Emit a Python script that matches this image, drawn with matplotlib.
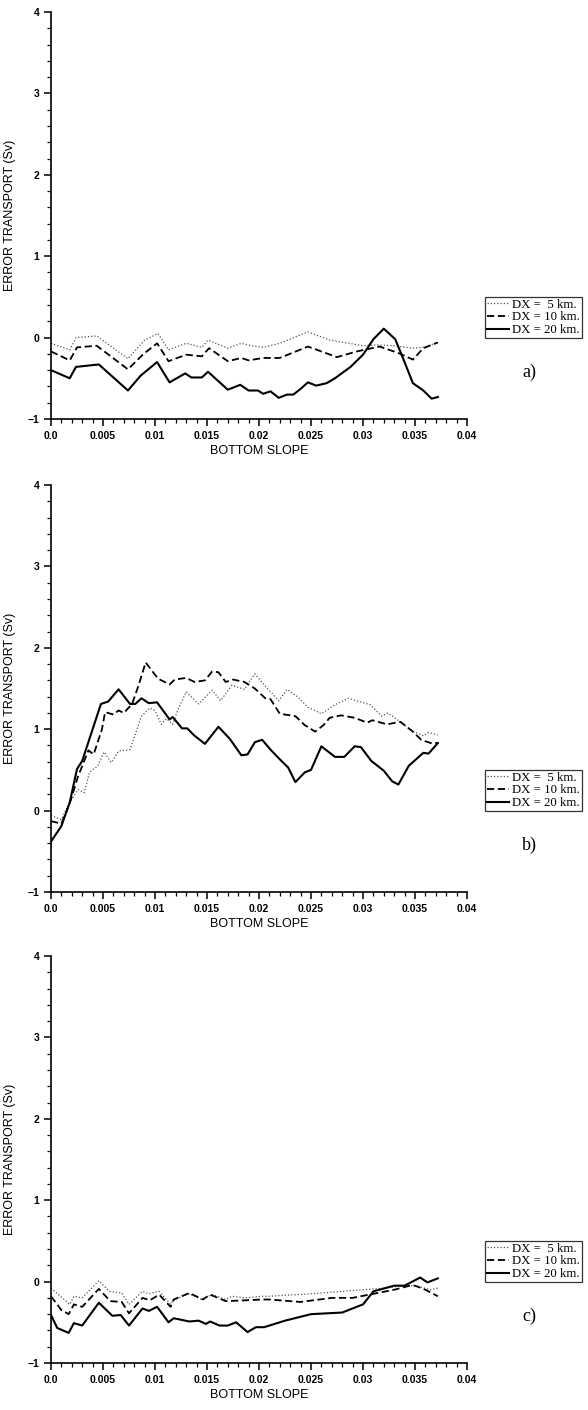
import matplotlib
matplotlib.use("Agg")
from matplotlib import pyplot as plt
from matplotlib.ticker import MultipleLocator, FixedFormatter, FixedLocator

# ---- data ----
a5_x = [0.0, 0.0018, 0.0024, 0.0044, 0.0074, 0.009, 0.0103, 0.0113, 0.013, 0.0145, 0.0151, 0.017,
        0.0183, 0.0193, 0.0204, 0.022, 0.0247, 0.0268, 0.030, 0.0313, 0.0329, 0.0348, 0.0358, 0.0372]
a5_y = [-0.07, -0.15, 0.0, 0.02, -0.26, -0.03, 0.05, -0.15, -0.07, -0.12, -0.03, -0.13,
        -0.07, -0.10, -0.12, -0.07, 0.07, -0.03, -0.10, -0.09, -0.10, -0.13, -0.12, -0.06]
a10_x = [0.0, 0.0018, 0.0025, 0.0044, 0.0074, 0.0089, 0.0102, 0.0113, 0.013, 0.0145, 0.0152, 0.017,
         0.0183, 0.019, 0.0204, 0.022, 0.0247, 0.0275, 0.0294, 0.0316, 0.0334, 0.0348, 0.0358, 0.0372]
a10_y = [-0.17, -0.28, -0.12, -0.10, -0.39, -0.20, -0.07, -0.29, -0.21, -0.23, -0.13, -0.29,
         -0.25, -0.28, -0.25, -0.25, -0.11, -0.24, -0.17, -0.11, -0.19, -0.27, -0.13, -0.06]
a20_x = [0.0, 0.0018, 0.0024, 0.0046, 0.0074, 0.0086, 0.0102, 0.0114, 0.0129, 0.0135, 0.0145, 0.0151,
         0.017, 0.0182, 0.019, 0.0199, 0.0204, 0.0211, 0.0219, 0.0227, 0.0233, 0.024, 0.0247, 0.0255,
         0.0265, 0.0273, 0.0288, 0.030, 0.031, 0.032, 0.0331, 0.0339, 0.0348, 0.0358, 0.0366, 0.0372]
a20_y = [-0.40, -0.50, -0.36, -0.33, -0.65, -0.47, -0.30, -0.55, -0.44, -0.49, -0.49, -0.42,
         -0.64, -0.58, -0.65, -0.65, -0.69, -0.66, -0.74, -0.70, -0.70, -0.63, -0.55, -0.59,
         -0.56, -0.50, -0.36, -0.21, -0.02, 0.11, -0.02, -0.27, -0.56, -0.65, -0.75, -0.73]

b5_x = [0.0, 0.001, 0.0018, 0.0026, 0.0032, 0.0037, 0.0045, 0.0051, 0.0058, 0.0065, 0.0076, 0.0087,
        0.0095, 0.0100, 0.0106, 0.0111, 0.0117, 0.0122, 0.013, 0.0142, 0.0155, 0.0163, 0.0174, 0.0186,
        0.0196, 0.0206, 0.0219, 0.0227, 0.0237, 0.0247, 0.026, 0.0273, 0.0286, 0.0307, 0.0318, 0.0324,
        0.0337, 0.0347, 0.0358, 0.0363, 0.0372]
b5_y = [-0.06, -0.11, 0.10, 0.26, 0.22, 0.47, 0.55, 0.72, 0.59, 0.73, 0.75, 1.16,
        1.26, 1.23, 1.06, 1.13, 1.06, 1.24, 1.46, 1.31, 1.48, 1.35, 1.54, 1.49,
        1.68, 1.53, 1.35, 1.49, 1.40, 1.27, 1.19, 1.30, 1.38, 1.30, 1.16, 1.20,
        1.08, 0.98, 0.92, 0.96, 0.93]
b10_x = [0.0, 0.001, 0.0018, 0.0026, 0.0036, 0.0041, 0.0049, 0.0052, 0.006, 0.0065, 0.007, 0.0078,
         0.0084, 0.0091, 0.0103, 0.0114, 0.0119, 0.013, 0.0138, 0.0148, 0.0155, 0.0161, 0.0168, 0.0175,
         0.0186, 0.0196, 0.0206, 0.0211, 0.022, 0.0235, 0.0244, 0.0254, 0.0262, 0.0268, 0.0279, 0.0292,
         0.0304, 0.0309, 0.0323, 0.0336, 0.0347, 0.0356, 0.0365, 0.0372]
b10_y = [-0.13, -0.16, 0.09, 0.42, 0.74, 0.69, 1.00, 1.21, 1.18, 1.23, 1.20, 1.31,
         1.53, 1.82, 1.62, 1.55, 1.61, 1.63, 1.58, 1.60, 1.71, 1.70, 1.58, 1.61,
         1.58, 1.50, 1.38, 1.37, 1.19, 1.16, 1.05, 0.97, 1.05, 1.14, 1.17, 1.14,
         1.08, 1.11, 1.06, 1.09, 0.98, 0.87, 0.83, 0.83]
b20_x = [0.0, 0.001, 0.0018, 0.0025, 0.003, 0.0039, 0.0048, 0.0055, 0.0065, 0.0076, 0.0081, 0.0087,
         0.0094, 0.0102, 0.0114, 0.0117, 0.0126, 0.0131, 0.0138, 0.0148, 0.0161, 0.0172, 0.0183, 0.0189,
         0.0196, 0.0203, 0.0211, 0.022, 0.0228, 0.0235, 0.0244, 0.025, 0.026, 0.0273, 0.0282, 0.0292,
         0.0298, 0.0308, 0.032, 0.0328, 0.0334, 0.0344, 0.0358, 0.0363, 0.0372]
b20_y = [-0.38, -0.19, 0.10, 0.51, 0.61, 0.96, 1.31, 1.34, 1.49, 1.31, 1.31, 1.38,
         1.32, 1.33, 1.12, 1.15, 1.01, 1.01, 0.92, 0.82, 1.03, 0.88, 0.68, 0.69,
         0.84, 0.87, 0.75, 0.63, 0.53, 0.35, 0.47, 0.50, 0.79, 0.66, 0.66, 0.79,
         0.78, 0.61, 0.49, 0.36, 0.32, 0.55, 0.71, 0.70, 0.83]

c5_x = [0.0, 0.0018, 0.0022, 0.003, 0.0046, 0.0056, 0.0068, 0.0075, 0.0088, 0.0094, 0.0104, 0.0115,
        0.0118, 0.0133, 0.0145, 0.0155, 0.0168, 0.0174, 0.0187, 0.0203, 0.021, 0.025, 0.028, 0.030,
        0.032, 0.034, 0.035, 0.0365, 0.0372]
c5_y = [-0.08, -0.28, -0.18, -0.20, 0.01, -0.12, -0.14, -0.28, -0.12, -0.15, -0.12, -0.28,
        -0.22, -0.15, -0.22, -0.16, -0.22, -0.18, -0.20, -0.18, -0.18, -0.15, -0.12, -0.10,
        -0.08, -0.05, -0.05, -0.10, -0.08]
c10_x = [0.0, 0.001, 0.0017, 0.0022, 0.003, 0.0046, 0.0057, 0.0068, 0.0075, 0.0088, 0.0095, 0.0104,
         0.0115, 0.0118, 0.0133, 0.0146, 0.0153, 0.0168, 0.0187, 0.0203, 0.021, 0.024, 0.027, 0.029,
         0.031, 0.033, 0.0345, 0.035, 0.036, 0.0372]
c10_y = [-0.18, -0.35, -0.40, -0.28, -0.31, -0.09, -0.24, -0.25, -0.39, -0.20, -0.23, -0.16,
         -0.31, -0.22, -0.14, -0.22, -0.16, -0.24, -0.23, -0.22, -0.22, -0.25, -0.20, -0.20,
         -0.15, -0.10, -0.05, -0.05, -0.10, -0.18]
c20_x = [0.0, 0.0006, 0.0017, 0.0022, 0.003, 0.0046, 0.0059, 0.0067, 0.0075, 0.0088, 0.0094, 0.0102,
         0.0113, 0.0118, 0.0133, 0.0142, 0.0149, 0.0153, 0.0162, 0.017, 0.0178, 0.0189, 0.0197, 0.0205,
         0.0225, 0.025, 0.028, 0.030, 0.031, 0.033, 0.034, 0.0355, 0.0362, 0.0372]
c20_y = [-0.41, -0.57, -0.63, -0.51, -0.54, -0.26, -0.42, -0.41, -0.54, -0.33, -0.36, -0.31,
         -0.50, -0.45, -0.49, -0.48, -0.52, -0.49, -0.54, -0.54, -0.50, -0.62, -0.56, -0.56,
         -0.48, -0.40, -0.38, -0.28, -0.12, -0.05, -0.05, 0.05, -0.01, 0.04]

legend_labels = ["DX =  5 km.", "DX = 10 km.", "DX = 20 km."]
panel_tags = ["a)", "b)", "c)"]
x_ticks = [0.0, 0.005, 0.01, 0.015, 0.02, 0.025, 0.03, 0.035, 0.04]
x_ticklabels = ["0.0", "0.005", "0.01", "0.015", "0.02", "0.025", "0.03", "0.035", "0.04"]

panels = [
    [(a5_x, a5_y), (a10_x, a10_y), (a20_x, a20_y)],
    [(b5_x, b5_y), (b10_x, b10_y), (b20_x, b20_y)],
    [(c5_x, c5_y), (c10_x, c10_y), (c20_x, c20_y)],
]

styles = [
    dict(color="#555555", lw=0.9, linestyle=(0, (1, 1.6))),
    dict(color="black", lw=1.3, linestyle=(0, (4, 2))),
    dict(color="black", lw=1.5, linestyle="-"),
]

fig = plt.figure(figsize=(5.88, 14.1), dpi=100)
left, width, height = 51 / 588, 416 / 588, 407 / 1410
bottoms = [1 - 419 / 1410, 1 - 892 / 1410, 1 - 1363 / 1410]

tick_font = dict(family="Liberation Sans", weight="bold", size=7.5)

for k, series in enumerate(panels):
    ax = fig.add_axes([left, bottoms[k], width, height])
    handles = []
    for (xs, ys), st in zip(series, styles):
        h, = ax.plot(xs, ys, **st)
        handles.append(h)

    ax.set_xlim(0, 0.04)
    ax.set_ylim(-1, 4)
    ax.spines["top"].set_visible(False)
    ax.spines["right"].set_visible(False)
    ax.spines["left"].set_linewidth(1.2)
    ax.spines["bottom"].set_linewidth(1.2)

    ax.xaxis.set_major_locator(FixedLocator(x_ticks))
    ax.xaxis.set_major_formatter(FixedFormatter(x_ticklabels))
    ax.xaxis.set_minor_locator(MultipleLocator(0.001))
    ax.yaxis.set_major_locator(MultipleLocator(1))
    ax.yaxis.set_minor_locator(MultipleLocator(0.2))
    ax.tick_params(which="major", length=5, width=1.1, direction="out")
    ax.tick_params(which="minor", length=3, width=0.9, direction="out")
    for lab in ax.get_xticklabels() + ax.get_yticklabels():
        lab.set_fontproperties(matplotlib.font_manager.FontProperties(**tick_font))

    ax.set_ylabel("ERROR TRANSPORT (Sv)", family="Liberation Sans", fontsize=9, labelpad=8)
    ax.set_xlabel("BOTTOM SLOPE", family="Liberation Sans", fontsize=9, labelpad=3)

    leg = ax.legend(handles, legend_labels, loc="upper left", bbox_to_anchor=(1.043, 0.30),
                    prop=dict(family="Liberation Serif", size=9.2), frameon=True, fancybox=False,
                    borderpad=0.15, labelspacing=0.05, handlelength=1.7, handletextpad=0.3,
                    borderaxespad=0.0)
    leg.get_frame().set_edgecolor("black")
    leg.get_frame().set_linewidth(0.9)

    ax.text(1.151, 0.115, panel_tags[k], transform=ax.transAxes, ha="center", va="center",
            family="Liberation Serif", fontsize=13)

fig.savefig("out.png", dpi=100)
